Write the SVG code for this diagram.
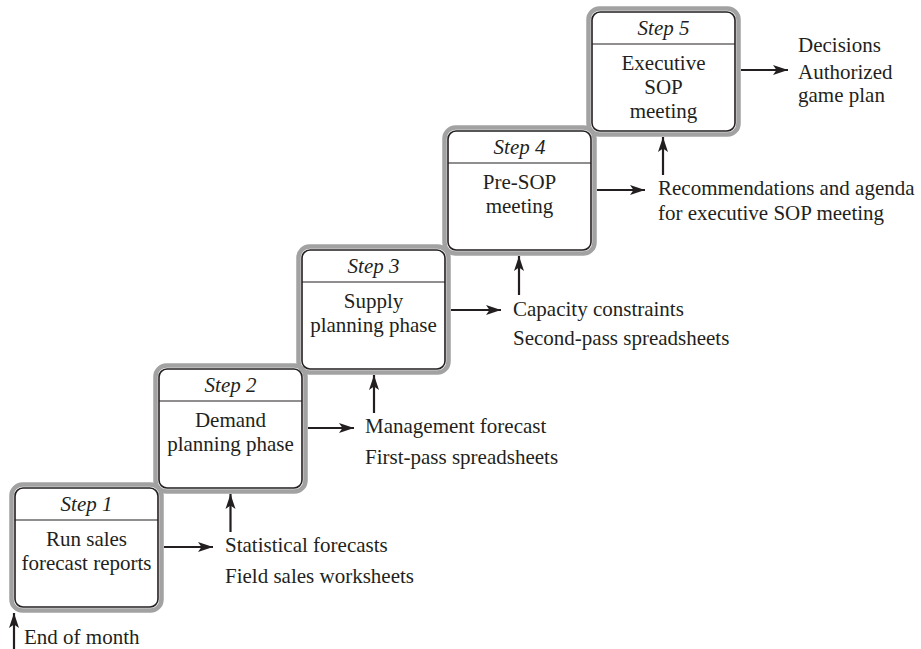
<svg xmlns="http://www.w3.org/2000/svg" width="921" height="649" viewBox="0 0 921 649">
<style>
text{font-family:"Liberation Serif","Times New Roman",serif;font-size:21px;fill:#231f20}
.c{text-anchor:middle}
.i{font-style:italic}
.halo{fill:none;stroke:#a2a2a2;stroke-width:4.5}
.box{fill:#fff;stroke:#231f20;stroke-width:1.6}
.div{stroke:#231f20;stroke-width:1.2}
.conn line{stroke:#231f20;stroke-width:2.2;marker-end:url(#ah)}
</style>
<defs>
<marker id="ah" markerUnits="userSpaceOnUse" markerWidth="16" markerHeight="12" refX="15" refY="6" orient="auto">
<path d="M0,1 L15,6 L0,11 L3.5,6 z" fill="#231f20"/>
</marker>
</defs>
<rect width="921" height="649" fill="#fff"/>

<g id="step1">
<rect class="halo" x="11.5" y="484.5" width="150" height="126" rx="11"/>
<rect class="box" x="15" y="488" width="143" height="119" rx="8"/>
<line class="div" x1="15" y1="520" x2="158" y2="520"/>
<text class="c i" x="86.5" y="511">Step 1</text>
<text class="c" x="86.5" y="546">Run sales</text>
<text class="c" x="86.5" y="570">forecast reports</text>
</g>

<g id="step2">
<rect class="halo" x="155.5" y="365.5" width="150" height="126" rx="11"/>
<rect class="box" x="159" y="369" width="143" height="119" rx="8"/>
<line class="div" x1="159" y1="401" x2="302" y2="401"/>
<text class="c i" x="230.5" y="392">Step 2</text>
<text class="c" x="230.5" y="427">Demand</text>
<text class="c" x="230.5" y="451">planning phase</text>
</g>

<g id="step3">
<rect class="halo" x="298.5" y="246.5" width="150" height="126" rx="11"/>
<rect class="box" x="302" y="250" width="143" height="119" rx="8"/>
<line class="div" x1="302" y1="282" x2="445" y2="282"/>
<text class="c i" x="373.5" y="273">Step 3</text>
<text class="c" x="373.5" y="308">Supply</text>
<text class="c" x="373.5" y="332">planning phase</text>
</g>

<g id="step4">
<rect class="halo" x="444.5" y="127.5" width="150" height="126" rx="11"/>
<rect class="box" x="448" y="131" width="143" height="119" rx="8"/>
<line class="div" x1="448" y1="163" x2="591" y2="163"/>
<text class="c i" x="519.5" y="154">Step 4</text>
<text class="c" x="519.5" y="189">Pre-SOP</text>
<text class="c" x="519.5" y="213">meeting</text>
</g>

<g id="step5">
<rect class="halo" x="588.5" y="8.5" width="150" height="126" rx="11"/>
<rect class="box" x="592" y="12" width="143" height="119" rx="8"/>
<line class="div" x1="592" y1="44" x2="735" y2="44"/>
<text class="c i" x="663.5" y="35">Step 5</text>
<text class="c" x="663.5" y="70">Executive</text>
<text class="c" x="663.5" y="94">SOP</text>
<text class="c" x="663.5" y="118">meeting</text>
</g>

<g id="connectors" class="conn">
<line x1="14" y1="649" x2="14" y2="613"/>
<line x1="164" y1="547" x2="213" y2="547"/>
<line x1="230.5" y1="532" x2="230.5" y2="494"/>
<line x1="308" y1="428" x2="354" y2="428"/>
<line x1="374" y1="413" x2="374" y2="375"/>
<line x1="451" y1="310" x2="501" y2="310"/>
<line x1="519" y1="295" x2="519" y2="256"/>
<line x1="597" y1="190" x2="645" y2="190"/>
<line x1="663" y1="175" x2="663" y2="137"/>
<line x1="741" y1="70" x2="788" y2="70"/>
</g>

<g id="labels">
<text x="24" y="644">End of month</text>
<text x="225" y="552">Statistical forecasts</text>
<text x="225" y="583">Field sales worksheets</text>
<text x="365" y="433">Management forecast</text>
<text x="365" y="464">First-pass spreadsheets</text>
<text x="513" y="316">Capacity constraints</text>
<text x="513" y="345">Second-pass spreadsheets</text>
<text x="658" y="195">Recommendations and agenda</text>
<text x="658" y="220">for executive SOP meeting</text>
<text x="798" y="52">Decisions</text>
<text x="798" y="79">Authorized</text>
<text x="798" y="102">game plan</text>
</g>
</svg>
